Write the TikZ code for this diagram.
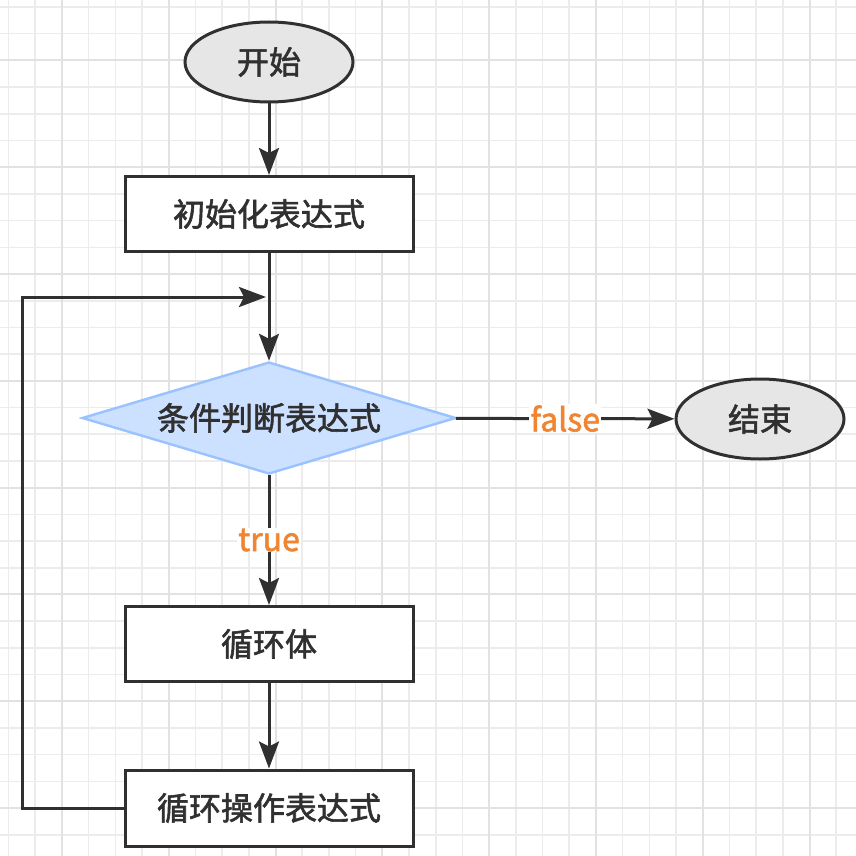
\documentclass[tikz,border=0pt]{standalone}
\usepackage{fontspec}
\setmainfont{Noto Sans CJK SC}[FakeBold=1.8]
\usetikzlibrary{shapes.geometric,arrows.meta}
\definecolor{ink}{RGB}{48,48,48}
\definecolor{termfill}{RGB}{230,230,230}
\definecolor{decfill}{RGB}{204,224,255}
\definecolor{decline}{RGB}{153,194,255}
\definecolor{lblcol}{RGB}{240,132,48}
\definecolor{gridminor}{RGB}{236,236,236}
\definecolor{gridmajor}{RGB}{226,226,226}
\tikzset{
  stepbox/.style={draw=ink, line width=3pt, fill=white, minimum width=288pt, minimum height=75pt, inner sep=0pt, font=\fontsize{32}{36}\selectfont, text=ink},
  term/.style={ellipse, draw=ink, line width=3pt, fill=termfill, minimum width=168pt, minimum height=80pt, inner sep=0pt, font=\fontsize{32}{36}\selectfont, text=ink},
  dec/.style={diamond, draw=decline, line width=2.4pt, fill=decfill, minimum width=374pt, minimum height=112pt, shape aspect=3.34, inner sep=0pt, font=\fontsize{32}{36}\selectfont, text=ink},
  arr/.style={draw=ink, line width=3pt, -{Stealth[length=27pt,width=20pt,inset=5pt]}},
  lbl/.style={fill=white, text=lblcol, inner sep=1pt, font=\fontsize{32}{36}\selectfont},
}
\begin{document}
\begin{tikzpicture}[x=1pt,y=-1pt]
\fill[white] (0,0) rectangle (856,856);
\useasboundingbox (0,0) rectangle (856,856);
\foreach \i in {0,...,31} {
  \draw[gridminor, line width=1.6pt] ({8.5+26.7*\i},0) -- ({8.5+26.7*\i},856);
  \draw[gridminor, line width=1.6pt] (0,{7+26.7*\i}) -- (856,{7+26.7*\i});
}
\foreach \i in {0,...,7} {
  \draw[gridmajor, line width=2pt] ({61.9+106.8*\i},0) -- ({61.9+106.8*\i},856);
  \draw[gridmajor, line width=2pt] (0,{60.4+106.8*\i}) -- (856,{60.4+106.8*\i});
}
\node[term] (start) at (269,62) {开始};
\node[stepbox] (init) at (269,214) {初始化表达式};
\node[dec] (cond) at (269,418) {条件判断表达式};
\node[term] (end) at (760,419) {结束};
\node[stepbox] (body) at (269,644) {循环体};
\node[stepbox, minimum height=76pt] (upd) at (269,808) {循环操作表达式};
\coordinate (lc) at (22,297);
\coordinate (loopend) at (266,297);
\draw[arr] (start) -- (init);
\draw[arr] (init) -- (cond);
\draw[arr] (cond) -- node[lbl]{false} (end);
\draw[arr] (cond) -- node[lbl]{true} (body);
\draw[arr] (body) -- (upd);
\draw[arr] (upd.west) -| (lc) -- (loopend);
\end{tikzpicture}
\end{document}
